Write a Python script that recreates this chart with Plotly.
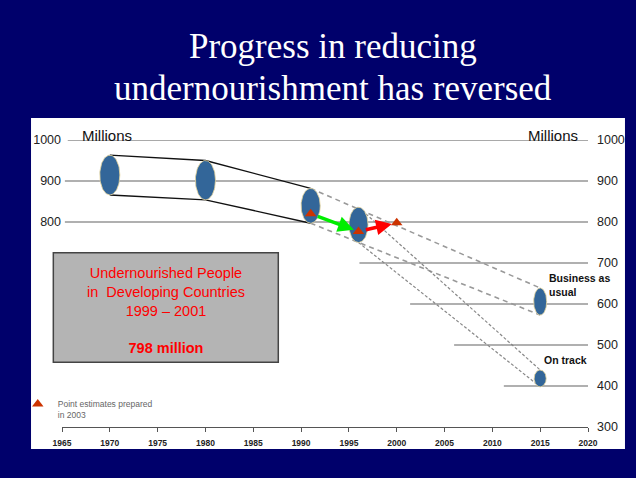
import numpy as np
import plotly.graph_objects as go

# ---------------- data ----------------
ellipse_years = [1970, 1980, 1991, 1996, 2015, 2015]
ellipse_low = [866, 854, 797, 750, 573, 398]
ellipse_high = [963, 950, 882, 836, 639, 439]

estimate_years = [1991, 1996, 2000]
estimate_values = [820, 777, 798]

target_labels = ["Business as<br>usual", "On track"]

x_ticks = [1965, 1970, 1975, 1980, 1985, 1990, 1995, 2000, 2005, 2010, 2015, 2020]
y_ticks_right = [300, 400, 500, 600, 700, 800, 900, 1000]
y_ticks_left = [800, 900, 1000]
grid_values = [1000, 900, 800, 700, 600, 500, 400]

title_lines = ["Progress in reducing", "undernourishment has reversed"]
box_text = ["Undernourished People", "in\u00a0 Developing Countries", "1999 \u2013 2001", "",
            "<b>798 million</b>"]

# ---------------- styling ----------------
NAVY = "#00006B"
ELL_FILL = "#336699"
ellipse_half_w = [1.05, 1.05, 1.0, 1.0, 0.68, 0.63]
grid_start = [1965.6, 1965.3, 1965.3, 1996.1, 2001.4, 2006.0, 2011.2]
SANS = "Liberation Sans, Arial, sans-serif"
SERIF = "Liberation Serif, Times New Roman, serif"

fig = go.Figure()

# projection lines (dashed)
proj = [(2, 4, "#999999", "5px,4px", 1.6), (2, 4, "#999999", "5px,4px", 1.6),
        (3, 5, "#888888", "3px,2px", 1.2), (3, 5, "#888888", "3px,2px", 1.2)]
for k, (a, b, col, dash, w) in enumerate(proj):
    arr = ellipse_high if k % 2 == 0 else ellipse_low
    fig.add_trace(go.Scatter(x=[ellipse_years[a], ellipse_years[b]], y=[arr[a], arr[b]],
                             mode="lines", line=dict(color=col, dash=dash, width=w),
                             showlegend=False, hoverinfo="skip"))

# cylinder edges
for arr in (ellipse_high, ellipse_low):
    fig.add_trace(go.Scatter(x=ellipse_years[:3], y=arr[:3], mode="lines",
                             line=dict(color="#111111", width=1.4),
                             showlegend=False, hoverinfo="skip"))

# ellipses
t = np.linspace(0, 2 * np.pi, 80)
for yr, lo, hi, hw in zip(ellipse_years, ellipse_low, ellipse_high, ellipse_half_w):
    cy = (lo + hi) / 2
    hh = (hi - lo) / 2
    fig.add_trace(go.Scatter(x=yr + hw * np.cos(t), y=cy + hh * np.sin(t), mode="lines",
                             fill="toself", fillcolor=ELL_FILL,
                             line=dict(color="#e6d49a", width=0.8),
                             showlegend=False, hoverinfo="skip"))

# point estimates
fig.add_trace(go.Scatter(x=estimate_years, y=estimate_values, mode="markers",
                         marker=dict(symbol="triangle-up", size=10, color="#CC3300"),
                         name="Point estimates prepared<br>in 2003", showlegend=True))

# invisible trace for left axis
fig.add_trace(go.Scatter(x=[1965], y=[1000], yaxis="y2", mode="markers",
                         marker=dict(opacity=0), showlegend=False, hoverinfo="skip"))

# arrows between estimates
for i, col in [(0, "#00EE00"), (1, "#FF0000")]:
    fig.add_annotation(x=estimate_years[i + 1], y=estimate_values[i + 1],
                       ax=estimate_years[i], ay=estimate_values[i],
                       xref="x", yref="y", axref="x", ayref="y", text="",
                       showarrow=True, arrowhead=2, arrowsize=0.9, arrowwidth=3.5,
                       arrowcolor=col, standoff=5, startstandoff=6)

# background panel, box and gridlines
shapes = [dict(type="rect", xref="paper", yref="paper", x0=-0.0589, x1=1.0703,
               y0=-0.0767, y1=1.0767, fillcolor="white", line=dict(width=0), layer="below"),
          dict(type="rect", xref="paper", yref="paper", x0=-0.0165, x1=0.4112,
               y0=0.2254, y1=0.6073, fillcolor="#b4b4b4",
               line=dict(color="#444444", width=1.5), layer="above")]
for v, s in zip(grid_values, grid_start):
    shapes.append(dict(type="line", xref="x", yref="y", x0=s, x1=2020.3, y0=v, y1=v,
                       line=dict(color="#555555" if v == 1000 else "#b0b0b0",
                                 width=1.2 if v == 1000 else 2), layer="below"))

# title lines
for txt, yy in zip(title_lines, [1.3275, 1.1794]):
    fig.add_annotation(x=0.516, y=yy, xref="paper", yref="paper", text=txt, showarrow=False,
                       xanchor="center", yanchor="middle",
                       font=dict(family=SERIF, size=35, color="white"))

# labels
fig.add_annotation(x=0.0342, y=1.0157, xref="paper", yref="paper", text="Millions",
                   showarrow=False, xanchor="left", yanchor="middle",
                   font=dict(family=SANS, size=15, color="#111"))
fig.add_annotation(x=0.9848, y=1.0157, xref="paper", yref="paper", text="Millions",
                   showarrow=False, xanchor="right", yanchor="middle",
                   font=dict(family=SANS, size=15, color="#111"))
fig.add_annotation(x=2015.75, y=646, xref="x", yref="y", text="<b>" + target_labels[0] + "</b>",
                   showarrow=False, xanchor="left", yanchor="middle", align="left",
                   font=dict(family=SANS, size=10.5, color="#111"))
fig.add_annotation(x=2015.15, y=463, xref="x", yref="y", text="<b>" + target_labels[1] + "</b>",
                   showarrow=False, xanchor="left", yanchor="middle", align="left",
                   font=dict(family=SANS, size=10.5, color="#111"))
fig.add_annotation(x=0.1973, y=0.4042, xref="paper", yref="paper",
                   text="<br>".join(box_text),
                   showarrow=False, xanchor="center", yanchor="middle", align="center",
                   font=dict(family=SANS, size=14.5, color="#FF0000"))

fig.update_layout(
    width=636, height=478,
    margin=dict(l=62, r=48, t=140, b=51),
    paper_bgcolor=NAVY, plot_bgcolor="white",
    shapes=shapes,
    xaxis=dict(range=[1965, 2020], tickvals=x_ticks, ticks="outside", ticklen=4,
               tickcolor="#555", showline=True, linecolor="#555", linewidth=1,
               showgrid=False, zeroline=False, ticklabelstandoff=4,
               tickfont=dict(family=SANS, size=8.5, color="#222", weight="bold")),
    yaxis=dict(range=[300, 1000], side="right", tickvals=y_ticks_right, ticks="",
               showgrid=False, zeroline=False, showline=False, ticklabelstandoff=8,
               tickfont=dict(family=SANS, size=12.5, color="#222")),
    yaxis2=dict(range=[300, 1000], overlaying="y", side="left", tickvals=y_ticks_left,
                ticks="", showgrid=False, zeroline=False, showline=False,
                tickfont=dict(family=SANS, size=12.5, color="#222")),
    legend=dict(x=-0.0841, xanchor="left", y=0.1219, yanchor="top", valign="top",
                bgcolor="rgba(0,0,0,0)", font=dict(family=SANS, size=8.5, color="#666")),
    showlegend=True,
)

fig.write_html("out.html", config={"displayModeBar": False},
               post_script="document.body.style.margin='0px';"
                           "document.body.style.backgroundColor='#00006B';")
